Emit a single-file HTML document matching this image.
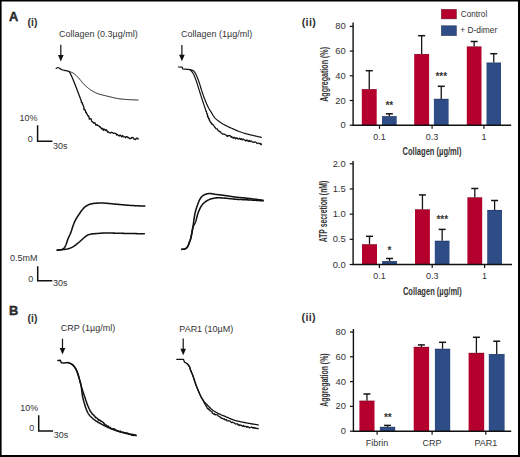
<!DOCTYPE html>
<html><head><meta charset="utf-8"><style>
html,body{margin:0;padding:0;background:#fff;}
body{width:520px;height:457px;overflow:hidden;}
svg{display:block;font-family:'Liberation Sans', sans-serif;}
text{fill:#333;}
</style></head><body>
<svg width="520" height="457" viewBox="0 0 520 457">
<rect x="0" y="0" width="520" height="457" fill="#fff"/>
<text x="9.1" y="20.8" font-size="12.8" text-anchor="start" font-weight="bold" fill="#000" stroke="#000" stroke-width="0.35">A</text>
<text x="27.6" y="25.6" font-size="10.5" text-anchor="start" font-weight="bold" fill="#111">(i)</text>
<text transform="translate(59,36.60) scale(1,1.1)" font-size="9" text-anchor="start" font-weight="normal" >Collagen (0.3µg/ml)</text>
<text transform="translate(181,36.60) scale(1,1.1)" font-size="9" text-anchor="start" font-weight="normal" >Collagen (1µg/ml)</text>
<line x1="60.8" y1="44.8" x2="60.8" y2="56.4" stroke="#111" stroke-width="1.2"/><path d="M58.0,54.9 L63.599999999999994,54.9 L60.8,61.4 Z" fill="#111"/>
<line x1="181.9" y1="45" x2="181.9" y2="56.3" stroke="#111" stroke-width="1.2"/><path d="M179.1,54.8 L184.70000000000002,54.8 L181.9,61.3 Z" fill="#111"/>
<path d="M56.20,68.40 C56.50,68.25 57.40,67.47 58.00,67.50 C58.60,67.53 59.13,68.23 59.80,68.60 C60.47,68.97 60.97,69.35 62.00,69.70 C63.03,70.05 64.78,70.38 66.00,70.70 C67.22,71.02 68.75,71.45 69.30,71.60" fill="none" stroke="#111" stroke-width="1.2" stroke-linejoin="round" stroke-linecap="round"/>
<path d="M69.88,71.75 L70.31,71.88 L70.85,72.05 L71.48,72.28 L72.14,72.56 L72.79,72.89 L73.43,73.26 L74.05,73.67 L74.65,74.11 L75.23,74.58 L75.80,75.07 L76.35,75.59 L76.88,76.11 L77.40,76.65 L77.91,77.20 L78.41,77.76 L78.90,78.32 L79.39,78.90 L79.87,79.47 L80.34,80.05 L80.81,80.64 L81.28,81.22 L81.75,81.81 L82.23,82.39 L82.71,82.96 L83.21,83.52 L83.71,84.07 L84.23,84.61 L84.77,85.13 L85.31,85.65 L85.86,86.16 L86.43,86.65 L86.99,87.14 L87.57,87.62 L88.15,88.09 L88.74,88.56 L89.34,89.01 L89.95,89.45 L90.56,89.87 L91.19,90.28 L91.82,90.68 L92.47,91.07 L93.12,91.44 L93.77,91.81 L94.43,92.16 L95.10,92.50 L95.78,92.82 L96.46,93.13 L97.15,93.42 L97.85,93.69 L98.55,93.94 L99.26,94.17 L99.98,94.38 L100.71,94.58 L101.43,94.76 L102.16,94.94 L102.89,95.11 L103.62,95.28 L104.35,95.45 L105.08,95.63 L105.81,95.80 L106.54,95.98 L107.27,96.16 L108.00,96.34 L108.72,96.52 L109.45,96.70 L110.18,96.88 L110.91,97.06 L111.64,97.23 L112.37,97.41 L113.10,97.58 L113.83,97.74 L114.56,97.90 L115.30,98.06 L116.03,98.21 L116.77,98.35 L117.51,98.48 L118.24,98.61 L118.99,98.72 L119.73,98.83 L120.47,98.93 L121.22,99.02 L121.96,99.10 L122.71,99.18 L123.45,99.25 L124.20,99.31 L124.95,99.38 L125.70,99.43 L126.44,99.49 L127.19,99.54 L127.94,99.59 L128.69,99.64 L129.44,99.68 L130.19,99.72 L130.93,99.75 L131.68,99.78 L132.43,99.81 L133.18,99.84 L133.93,99.86 L134.68,99.89 L135.42,99.91 L136.15,99.93 L136.84,99.95 L137.46,99.96 L137.95,99.98 L138.08,99.98" fill="none" stroke="#111" stroke-width="0.95" stroke-linejoin="round" stroke-linecap="round"/>
<path d="M69.48,71.95 L69.71,72.38 L70.01,72.95 L70.35,73.59 L70.69,74.26 L71.03,74.93 L71.35,75.60 L71.67,76.28 L71.98,76.97 L72.27,77.66 L72.57,78.35 L72.85,79.04 L73.14,79.73 L73.42,80.43 L73.70,81.13 L73.97,81.82 L74.25,82.52 L74.52,83.22 L74.80,83.92 L75.07,84.61 L75.34,85.31 L75.61,86.01 L75.89,86.71 L76.16,87.41 L76.43,88.11 L76.70,88.81 L76.97,89.51 L77.24,90.21 L77.50,90.91 L77.77,91.61 L78.04,92.31 L78.30,93.01 L78.57,93.71 L78.83,94.42 L79.10,95.12 L79.37,95.82 L79.63,96.52 L79.89,97.22 L80.16,97.92 L80.42,98.63 L80.68,99.33 L80.95,100.03 L81.21,100.74 L81.26,101.09 L81.47,102.44 L81.91,102.92 L82.26,102.66 L82.48,103.32 L82.54,104.09 L83.26,105.50 L83.17,105.59 L83.88,107.30 L83.82,107.90 L83.89,109.39 L84.32,109.85 L84.51,109.11 L85.24,110.12 L85.42,110.55 L85.63,112.13 L85.80,112.61 L86.27,112.28 L86.79,114.16 L87.29,114.06 L87.52,114.97 L88.15,116.29 L88.46,115.83 L89.02,117.04 L89.07,118.08 L89.40,119.19 L90.25,118.65 L90.58,118.69 L91.19,119.02 L91.65,121.01 L92.02,121.77 L92.72,121.94 L93.17,122.23 L94.01,123.27 L94.39,123.05 L94.97,122.72 L95.70,124.39 L95.85,125.23 L96.66,124.83 L97.12,124.57 L97.51,125.32 L98.51,125.53 L98.82,126.09 L99.83,127.02 L100.21,126.79 L101.12,128.11 L101.76,129.01 L102.15,128.29 L103.10,128.80 L103.33,130.33 L104.05,129.10 L104.88,129.54 L105.43,130.57 L106.20,129.70 L106.98,130.74 L107.74,132.21 L108.38,131.63 L108.74,132.24 L109.87,132.97 L110.57,133.21 L111.03,132.52 L111.87,132.22 L112.23,132.40 L112.99,132.96 L113.62,133.48 L114.39,133.05 L115.23,133.50 L116.25,133.58 L116.52,134.99 L117.36,134.48 L117.94,134.92 L119.19,136.10 L119.60,135.53 L120.10,134.97 L120.92,135.68 L121.59,136.84 L122.79,135.41 L123.03,136.60 L123.69,136.80 L124.99,136.95 L125.55,137.79 L126.09,136.74 L127.06,136.72 L127.80,137.60 L128.20,137.34 L129.39,138.45 L130.02,138.67 L130.73,138.72 L131.33,137.65 L131.78,138.00 L132.68,137.42 L133.67,137.96 L134.27,139.41 L135.35,139.42 L135.72,139.50 L136.38,138.07 L137.07,138.06 L138.09,138.95 L138.15,138.71" fill="none" stroke="#111" stroke-width="1.3" stroke-linejoin="round" stroke-linecap="round"/>
<path d="M178.4,67 L182.2,67.2 L182.6,68.8 L190,69.6" fill="none" stroke="#111" stroke-width="1.2" stroke-linejoin="round" stroke-linecap="round"/>
<path d="M190.58,69.72 L191.02,69.82 L191.56,69.97 L192.18,70.19 L192.81,70.48 L193.41,70.86 L193.96,71.33 L194.45,71.86 L194.89,72.45 L195.28,73.08 L195.65,73.73 L195.98,74.40 L196.30,75.08 L196.61,75.76 L196.90,76.45 L197.19,77.14 L197.47,77.84 L197.74,78.54 L198.01,79.24 L198.28,79.94 L198.54,80.64 L198.79,81.35 L199.03,82.06 L199.27,82.77 L199.51,83.48 L199.73,84.19 L199.95,84.91 L200.17,85.63 L200.39,86.35 L200.61,87.06 L200.82,87.78 L201.04,88.50 L201.26,89.22 L201.48,89.93 L201.70,90.65 L201.93,91.37 L202.16,92.08 L202.40,92.79 L202.64,93.50 L202.89,94.21 L203.14,94.91 L203.40,95.62 L203.66,96.32 L203.92,97.02 L204.18,97.73 L204.45,98.43 L204.72,99.13 L204.99,99.83 L205.27,100.52 L205.54,101.22 L205.83,101.91 L206.11,102.61 L206.41,103.30 L206.70,103.99 L207.01,104.67 L207.32,105.35 L207.64,106.03 L207.97,106.70 L208.31,107.37 L208.67,108.03 L209.03,108.68 L209.41,109.33 L209.80,109.97 L210.19,110.61 L210.59,111.25 L210.99,111.88 L211.38,112.52 L211.76,113.17 L212.14,113.81 L212.51,114.46 L212.89,115.11 L213.28,115.75 L213.69,116.37 L214.13,116.98 L214.60,117.55 L215.10,118.10 L215.63,118.63 L216.18,119.14 L216.75,119.63 L217.33,120.10 L217.92,120.57 L218.51,121.02 L219.12,121.46 L219.73,121.90 L220.34,122.33 L220.97,122.74 L221.59,123.15 L222.23,123.55 L222.87,123.95 L223.51,124.33 L224.17,124.70 L224.82,125.05 L225.49,125.40 L226.16,125.74 L226.83,126.08 L227.50,126.40 L228.18,126.72 L228.86,127.03 L229.55,127.34 L230.23,127.65 L230.92,127.95 L231.60,128.26 L232.29,128.56 L232.97,128.87 L233.66,129.17 L234.34,129.48 L235.03,129.78 L235.72,130.08 L236.41,130.37 L237.10,130.66 L237.79,130.95 L238.49,131.23 L239.19,131.50 L239.89,131.77 L240.59,132.03 L241.30,132.28 L242.01,132.52 L242.72,132.76 L243.43,132.98 L244.15,133.20 L244.87,133.41 L245.59,133.62 L246.31,133.81 L247.04,134.01 L247.77,134.19 L248.49,134.38 L249.22,134.56 L249.95,134.74 L250.68,134.91 L251.41,135.09 L252.14,135.26 L252.87,135.43 L253.60,135.60 L254.33,135.76 L255.06,135.93 L255.79,136.10 L256.52,136.26 L257.26,136.43 L257.99,136.59 L258.71,136.75 L259.42,136.91 L260.10,137.06 L260.69,137.20 L261.18,137.31 L261.31,137.34" fill="none" stroke="#111" stroke-width="1.2" stroke-linejoin="round" stroke-linecap="round"/>
<path d="M190.27,69.89 L190.61,70.23 L191.06,70.70 L191.54,71.24 L192.02,71.81 L192.48,72.40 L192.89,73.03 L193.27,73.67 L193.62,74.33 L193.95,75.01 L194.26,75.69 L194.55,76.38 L194.83,77.07 L195.10,77.77 L195.37,78.48 L195.62,79.18 L195.88,79.89 L196.13,80.59 L196.37,81.30 L196.61,82.01 L196.85,82.72 L197.08,83.44 L197.31,84.15 L197.53,84.87 L197.76,85.58 L197.98,86.30 L198.20,87.01 L198.43,87.73 L198.65,88.45 L198.87,89.16 L199.09,89.88 L199.32,90.60 L199.54,91.31 L199.77,92.03 L199.99,92.74 L200.22,93.46 L200.45,94.17 L200.68,94.88 L200.91,95.60 L201.14,96.31 L201.37,97.02 L201.60,97.74 L201.84,98.45 L202.07,99.17 L202.30,99.88 L202.53,100.59 L202.76,101.31 L203.00,102.02 L203.23,102.73 L203.46,103.44 L203.70,104.15 L203.94,104.87 L204.18,105.58 L204.42,106.29 L204.66,107.00 L204.90,107.71 L205.14,108.42 L205.38,109.13 L205.62,109.84 L205.85,111.16 L206.25,111.54 L206.41,111.23 L206.71,113.43 L206.79,113.85 L207.20,113.53 L207.45,114.52 L207.48,116.37 L208.04,116.05 L207.88,117.33 L208.15,116.95 L208.80,119.05 L209.11,118.36 L209.34,120.54 L209.63,120.07 L209.70,120.34 L210.43,122.49 L210.98,122.33 L211.37,122.78 L211.45,124.10 L211.94,123.66 L212.57,124.23 L212.96,124.84 L213.71,125.17 L213.97,126.13 L214.71,127.10 L215.23,127.36 L215.54,128.05 L215.78,128.63 L216.40,129.01 L217.27,128.74 L217.65,129.55 L218.26,131.03 L218.83,130.78 L219.57,131.64 L220.07,131.26 L220.54,131.92 L221.31,133.25 L222.10,133.24 L222.59,134.22 L223.30,134.01 L224.08,134.15 L224.68,134.35 L225.58,134.70 L226.24,135.38 L226.61,136.10 L227.67,135.68 L227.94,136.44 L228.81,135.40 L229.41,135.56 L230.35,135.80 L231.19,137.32 L231.81,136.41 L232.21,137.54 L233.38,138.15 L234.09,137.15 L234.57,137.67 L235.48,138.92 L235.99,137.61 L236.67,138.42 L237.39,138.01 L237.96,139.13 L238.92,138.99 L239.59,138.20 L240.42,139.45 L241.41,138.61 L242.13,140.08 L242.48,139.02 L243.49,139.08 L243.87,139.66 L245.02,140.11 L245.40,140.99 L246.48,139.96 L247.10,140.89 L247.48,140.19 L248.41,141.44 L249.42,140.50 L250.07,141.68 L250.83,140.85 L251.57,140.99 L252.02,141.85 L253.07,142.20 L253.37,141.86 L254.16,142.49 L254.85,141.90 L255.60,141.97 L256.39,142.60 L257.11,143.58 L257.78,143.28 L258.42,143.17 L259.15,143.16 L260.16,144.19 L260.78,143.37 L261.12,144.83 L261.47,144.08" fill="none" stroke="#111" stroke-width="1.2" stroke-linejoin="round" stroke-linecap="round"/>
<path d="M37.6,125.2 L37.6,141.3 L52.4,141.3" fill="none" stroke="#111" stroke-width="1.5"/><text transform="translate(19.4,120.60) scale(1,1.1)" font-size="9" text-anchor="start" font-weight="normal" >10%</text><text transform="translate(27.8,141.60) scale(1,1.1)" font-size="9" text-anchor="start" font-weight="normal" >0</text><text transform="translate(53,148.60) scale(1,1.1)" font-size="9" text-anchor="start" font-weight="normal" >30s</text>
<path d="M57.00,250.16 L57.44,250.13 L58.02,250.08 L58.69,250.02 L59.40,249.95 L60.13,249.86 L60.86,249.74 L61.58,249.57 L62.28,249.36 L62.93,249.06 L63.52,248.66 L64.04,248.18 L64.49,247.62 L64.89,247.00 L65.24,246.35 L65.55,245.68 L65.85,244.99 L66.13,244.29 L66.39,243.59 L66.64,242.89 L66.88,242.18 L67.11,241.46 L67.35,240.75 L67.58,240.04 L67.83,239.33 L68.10,238.63 L68.39,237.94 L68.69,237.25 L69.00,236.57 L69.33,235.90 L69.65,235.22 L69.97,234.54 L70.27,233.86 L70.57,233.17 L70.84,232.47 L71.10,231.77 L71.35,231.06 L71.58,230.35 L71.81,229.64 L72.03,228.92 L72.25,228.20 L72.48,227.49 L72.71,226.77 L72.95,226.06 L73.20,225.36 L73.46,224.65 L73.73,223.96 L74.01,223.26 L74.30,222.57 L74.60,221.88 L74.92,221.20 L75.24,220.53 L75.58,219.86 L75.94,219.20 L76.31,218.55 L76.69,217.91 L77.09,217.27 L77.51,216.65 L77.93,216.03 L78.35,215.41 L78.78,214.79 L79.19,214.17 L79.61,213.54 L80.02,212.92 L80.43,212.29 L80.85,211.67 L81.27,211.05 L81.72,210.45 L82.18,209.86 L82.65,209.28 L83.15,208.72 L83.66,208.17 L84.19,207.65 L84.74,207.15 L85.32,206.68 L85.92,206.24 L86.55,205.83 L87.20,205.47 L87.87,205.13 L88.55,204.83 L89.24,204.54 L89.94,204.29 L90.66,204.06 L91.38,203.87 L92.11,203.71 L92.84,203.58 L93.58,203.47 L94.33,203.38 L95.07,203.30 L95.82,203.22 L96.57,203.16 L97.31,203.11 L98.06,203.07 L98.81,203.04 L99.56,203.01 L100.31,203.00 L101.06,203.00 L101.81,203.01 L102.56,203.03 L103.31,203.06 L104.06,203.10 L104.80,203.15 L105.55,203.20 L106.30,203.26 L107.05,203.32 L107.79,203.39 L108.54,203.46 L109.29,203.53 L110.03,203.60 L110.78,203.68 L111.53,203.75 L112.27,203.83 L113.02,203.90 L113.77,203.97 L114.51,204.04 L115.26,204.11 L116.01,204.18 L116.75,204.25 L117.50,204.31 L118.25,204.38 L118.99,204.45 L119.74,204.52 L120.49,204.58 L121.24,204.65 L121.98,204.72 L122.73,204.79 L123.48,204.85 L124.22,204.92 L124.97,204.99 L125.72,205.05 L126.46,205.11 L127.21,205.18 L127.96,205.24 L128.71,205.30 L129.46,205.35 L130.20,205.41 L130.95,205.46 L131.70,205.51 L132.45,205.55 L133.20,205.60 L133.95,205.64 L134.69,205.67 L135.44,205.71 L136.19,205.75 L136.94,205.78 L137.69,205.81 L138.44,205.84 L139.19,205.87 L139.94,205.90 L140.69,205.93 L141.44,205.95 L142.18,205.98 L142.91,206.01 L143.60,206.03 L144.21,206.05 L144.71,206.07 L144.84,206.07" fill="none" stroke="#111" stroke-width="1.55" stroke-linejoin="round" stroke-linecap="round"/>
<path d="M57.51,250.10 L57.92,250.06 L58.41,250.02 L58.97,249.97 L59.59,249.92 L60.25,249.86 L60.95,249.80 L61.66,249.73 L62.39,249.67 L63.13,249.59 L63.87,249.51 L64.61,249.42 L65.35,249.31 L66.08,249.19 L66.82,249.05 L67.54,248.89 L68.26,248.71 L68.98,248.50 L69.68,248.27 L70.38,248.01 L71.06,247.72 L71.74,247.41 L72.40,247.07 L73.05,246.71 L73.69,246.33 L74.32,245.93 L74.93,245.51 L75.54,245.07 L76.14,244.63 L76.73,244.16 L77.31,243.69 L77.89,243.22 L78.46,242.73 L79.03,242.24 L79.59,241.75 L80.16,241.26 L80.72,240.76 L81.27,240.26 L81.83,239.76 L82.39,239.25 L82.94,238.75 L83.49,238.25 L84.05,237.75 L84.61,237.26 L85.18,236.79 L85.76,236.34 L86.36,235.91 L86.97,235.52 L87.61,235.17 L88.26,234.87 L88.94,234.61 L89.63,234.39 L90.34,234.21 L91.06,234.07 L91.79,233.95 L92.53,233.86 L93.27,233.78 L94.01,233.72 L94.76,233.66 L95.51,233.61 L96.26,233.56 L97.00,233.51 L97.75,233.46 L98.50,233.41 L99.25,233.35 L99.99,233.28 L100.74,233.22 L101.49,233.16 L102.23,233.11 L102.98,233.06 L103.73,233.02 L104.48,232.99 L105.22,232.97 L105.97,232.96 L106.72,232.95 L107.47,232.95 L108.22,232.96 L108.97,232.98 L109.72,232.99 L110.47,233.01 L111.22,233.03 L111.97,233.06 L112.72,233.08 L113.47,233.11 L114.22,233.13 L114.97,233.15 L115.72,233.18 L116.47,233.20 L117.22,233.22 L117.97,233.24 L118.72,233.26 L119.47,233.28 L120.22,233.30 L120.97,233.32 L121.72,233.33 L122.47,233.35 L123.22,233.37 L123.97,233.38 L124.72,233.40 L125.47,233.41 L126.21,233.43 L126.96,233.44 L127.71,233.46 L128.46,233.47 L129.21,233.49 L129.96,233.50 L130.71,233.52 L131.46,233.53 L132.21,233.55 L132.96,233.56 L133.71,233.58 L134.46,233.59 L135.21,233.60 L135.96,233.62 L136.71,233.63 L137.46,233.65 L138.21,233.66 L138.95,233.68 L139.69,233.69 L140.42,233.70 L141.13,233.72 L141.82,233.73 L142.47,233.74 L143.07,233.75 L143.61,233.76 L144.08,233.77 L144.35,233.78" fill="none" stroke="#111" stroke-width="1.55" stroke-linejoin="round" stroke-linecap="round"/>
<path d="M181.88,249.37 L182.34,249.35 L182.95,249.29 L183.65,249.20 L184.36,249.05 L185.05,248.82 L185.71,248.50 L186.31,248.09 L186.85,247.60 L187.32,247.03 L187.72,246.42 L188.05,245.75 L188.34,245.07 L188.60,244.37 L188.86,243.66 L189.12,242.96 L189.39,242.26 L189.66,241.56 L189.93,240.86 L190.18,240.15 L190.41,239.44 L190.63,238.72 L190.83,238.00 L191.01,237.27 L191.18,236.54 L191.34,235.81 L191.50,235.08 L191.65,234.34 L191.79,233.61 L191.93,232.87 L192.06,232.13 L192.20,231.39 L192.33,230.66 L192.46,229.92 L192.58,229.18 L192.71,228.44 L192.83,227.70 L192.95,226.96 L193.06,226.22 L193.17,225.47 L193.28,224.73 L193.38,223.99 L193.47,223.25 L193.57,222.50 L193.67,221.76 L193.76,221.01 L193.86,220.27 L193.96,219.53 L194.06,218.78 L194.16,218.04 L194.27,217.30 L194.39,216.56 L194.51,215.82 L194.64,215.08 L194.79,214.34 L194.94,213.61 L195.10,212.88 L195.28,212.15 L195.46,211.42 L195.66,210.70 L195.86,209.98 L196.07,209.26 L196.30,208.54 L196.53,207.83 L196.76,207.12 L197.01,206.41 L197.25,205.70 L197.51,204.99 L197.76,204.29 L198.02,203.58 L198.29,202.88 L198.56,202.19 L198.84,201.49 L199.14,200.80 L199.45,200.12 L199.78,199.45 L200.14,198.80 L200.54,198.16 L200.97,197.56 L201.45,196.99 L201.97,196.46 L202.54,195.98 L203.14,195.54 L203.77,195.14 L204.43,194.79 L205.10,194.47 L205.80,194.20 L206.51,193.97 L207.23,193.79 L207.97,193.67 L208.71,193.59 L209.45,193.56 L210.20,193.58 L210.94,193.64 L211.69,193.74 L212.43,193.85 L213.17,193.98 L213.91,194.10 L214.65,194.21 L215.39,194.32 L216.13,194.41 L216.88,194.51 L217.62,194.60 L218.37,194.69 L219.11,194.78 L219.86,194.87 L220.60,194.96 L221.34,195.05 L222.09,195.14 L222.83,195.24 L223.58,195.33 L224.32,195.43 L225.06,195.53 L225.81,195.63 L226.55,195.74 L227.29,195.85 L228.03,195.96 L228.77,196.08 L229.51,196.20 L230.25,196.32 L230.99,196.43 L231.74,196.55 L232.48,196.67 L233.22,196.78 L233.96,196.89 L234.70,197.00 L235.45,197.10 L236.19,197.19 L236.93,197.28 L237.68,197.36 L238.43,197.44 L239.17,197.51 L239.92,197.57 L240.67,197.64 L241.41,197.70 L242.16,197.76 L242.91,197.83 L243.66,197.89 L244.40,197.96 L245.15,198.04 L245.89,198.12 L246.64,198.20 L247.39,198.28 L248.13,198.37 L248.88,198.45 L249.62,198.54 L250.36,198.63 L251.11,198.72 L251.85,198.82 L252.60,198.91 L253.34,199.00 L254.09,199.09 L254.83,199.18 L255.57,199.28 L256.32,199.37 L257.06,199.46 L257.81,199.56 L258.55,199.65 L259.30,199.75 L260.04,199.84 L260.78,199.93 L261.50,200.02 L262.18,200.11 L262.75,200.18 L263.04,200.22" fill="none" stroke="#111" stroke-width="1.55" stroke-linejoin="round" stroke-linecap="round"/>
<path d="M181.88,249.37 L182.34,249.35 L182.95,249.29 L183.65,249.20 L184.36,249.05 L185.05,248.82 L185.71,248.50 L186.31,248.09 L186.85,247.60 L187.32,247.03 L187.72,246.42 L188.05,245.75 L188.34,245.07 L188.60,244.37 L188.86,243.66 L189.12,242.96 L189.39,242.26 L189.66,241.56 L189.93,240.86 L190.18,240.15 L190.41,239.44 L190.63,238.72 L190.82,238.00 L191.00,237.27 L191.16,236.54 L191.30,235.80 L191.43,235.07 L191.56,234.33 L191.69,233.59 L191.81,232.85 L191.93,232.11 L192.06,231.37 L192.19,230.63 L192.33,229.89 L192.48,229.16 L192.64,228.43 L192.84,227.71 L193.06,226.99 L193.33,226.30 L193.64,225.62 L193.99,224.96 L194.36,224.31 L194.72,223.65 L195.06,222.99 L195.36,222.31 L195.62,221.61 L195.86,220.90 L196.07,220.18 L196.26,219.45 L196.45,218.73 L196.64,218.00 L196.82,217.27 L197.01,216.55 L197.20,215.82 L197.41,215.10 L197.62,214.38 L197.85,213.67 L198.10,212.96 L198.36,212.26 L198.63,211.56 L198.92,210.87 L199.21,210.18 L199.51,209.49 L199.83,208.81 L200.16,208.14 L200.50,207.47 L200.87,206.82 L201.25,206.18 L201.66,205.55 L202.10,204.95 L202.57,204.37 L203.07,203.81 L203.60,203.28 L204.15,202.78 L204.73,202.30 L205.32,201.85 L205.93,201.41 L206.56,201.00 L207.20,200.60 L207.85,200.23 L208.51,199.89 L209.19,199.59 L209.89,199.31 L210.60,199.06 L211.31,198.84 L212.03,198.64 L212.76,198.46 L213.49,198.30 L214.23,198.15 L214.97,198.04 L215.71,197.95 L216.45,197.88 L217.20,197.84 L217.95,197.82 L218.70,197.81 L219.45,197.82 L220.20,197.84 L220.95,197.87 L221.70,197.92 L222.45,197.96 L223.20,198.01 L223.94,198.07 L224.69,198.13 L225.44,198.19 L226.19,198.26 L226.93,198.33 L227.68,198.40 L228.42,198.48 L229.17,198.57 L229.91,198.65 L230.66,198.73 L231.40,198.82 L232.15,198.90 L232.90,198.98 L233.64,199.06 L234.39,199.13 L235.13,199.20 L235.88,199.27 L236.63,199.32 L237.38,199.37 L238.13,199.42 L238.88,199.46 L239.62,199.49 L240.37,199.52 L241.12,199.55 L241.87,199.58 L242.62,199.61 L243.37,199.64 L244.12,199.67 L244.87,199.71 L245.62,199.74 L246.37,199.78 L247.12,199.83 L247.87,199.87 L248.61,199.92 L249.36,199.96 L250.11,200.01 L250.86,200.06 L251.61,200.10 L252.36,200.15 L253.11,200.20 L253.85,200.25 L254.60,200.30 L255.35,200.35 L256.10,200.40 L256.85,200.45 L257.60,200.50 L258.34,200.55 L259.09,200.60 L259.84,200.64 L260.59,200.69 L261.32,200.74 L262.03,200.79 L262.64,200.83 L263.11,200.86" fill="none" stroke="#111" stroke-width="1.55" stroke-linejoin="round" stroke-linecap="round"/>
<path d="M37.7,266.2 L37.7,280.8 L52.3,280.8" fill="none" stroke="#111" stroke-width="1.5"/><text transform="translate(10,261.40) scale(1,1.1)" font-size="9" text-anchor="start" font-weight="normal" >0.5mM</text><text transform="translate(28.3,281.90) scale(1,1.1)" font-size="9" text-anchor="start" font-weight="normal" >0</text><text transform="translate(53,285.80) scale(1,1.1)" font-size="9" text-anchor="start" font-weight="normal" >30s</text>
<text x="9.1" y="315.2" font-size="12.8" text-anchor="start" font-weight="bold" fill="#000" stroke="#000" stroke-width="0.35">B</text>
<text x="27.5" y="321.6" font-size="10.5" text-anchor="start" font-weight="bold" fill="#111">(i)</text>
<text transform="translate(60.7,331.40) scale(1,1.1)" font-size="9" text-anchor="start" font-weight="normal" >CRP (1µg/ml)</text>
<text transform="translate(179.3,331.50) scale(1,1.1)" font-size="9" text-anchor="start" font-weight="normal" >PAR1 (10µM)</text>
<line x1="62.5" y1="338.7" x2="62.5" y2="349.5" stroke="#111" stroke-width="1.2"/><path d="M59.7,348.0 L65.3,348.0 L62.5,354.5 Z" fill="#111"/>
<line x1="183.2" y1="338.6" x2="183.2" y2="350.2" stroke="#111" stroke-width="1.2"/><path d="M180.39999999999998,348.7 L186.0,348.7 L183.2,355.2 Z" fill="#111"/>
<path d="M57.9,360.5 L60.3,360.3 L61.3,362.7 L64,363 L68,362.6" fill="none" stroke="#111" stroke-width="1.5" stroke-linejoin="round" stroke-linecap="round"/>
<path d="M68.45,362.75 L68.89,362.90 L69.47,363.11 L70.12,363.38 L70.78,363.69 L71.43,364.06 L72.05,364.47 L72.63,364.93 L73.19,365.43 L73.71,365.96 L74.20,366.53 L74.65,367.12 L75.07,367.74 L75.46,368.38 L75.82,369.03 L76.16,369.70 L76.48,370.38 L76.78,371.07 L77.07,371.76 L77.34,372.46 L77.59,373.16 L77.84,373.87 L78.07,374.58 L78.29,375.30 L78.51,376.02 L78.72,376.74 L78.92,377.46 L79.13,378.18 L79.33,378.90 L79.54,379.62 L79.75,380.34 L79.96,381.06 L80.17,381.78 L80.37,382.50 L80.57,383.23 L80.75,383.95 L80.92,384.68 L81.07,385.42 L81.20,386.16 L81.32,386.90 L81.42,387.64 L81.51,388.38 L81.59,389.13 L81.66,389.88 L81.74,390.62 L81.81,391.37 L81.89,392.11 L81.98,392.86 L82.08,393.60 L82.19,394.34 L82.31,395.08 L82.44,395.82 L82.59,396.56 L82.75,397.29 L82.92,398.02 L83.09,398.75 L83.27,399.48 L83.46,400.20 L83.65,400.93 L83.85,401.65 L84.05,402.37 L84.26,403.10 L84.47,403.82 L84.68,404.53 L84.90,405.25 L85.13,405.97 L85.36,406.68 L85.60,407.39 L85.85,408.10 L86.10,408.80 L86.36,409.50 L86.64,410.20 L86.93,410.89 L87.25,411.57 L87.58,412.24 L87.94,412.90 L88.33,413.54 L88.74,414.16 L89.17,414.77 L89.63,415.36 L90.12,415.94 L90.62,416.49 L91.14,417.03 L91.68,417.55 L92.23,418.06 L92.79,418.55 L93.37,419.03 L93.95,419.50 L94.55,419.96 L95.15,420.40 L95.77,420.82 L96.40,421.23 L97.04,421.62 L97.68,422.00 L98.33,422.38 L98.99,422.75 L99.64,423.11 L100.30,423.47 L100.96,423.83 L101.61,424.19 L102.27,424.55 L102.93,424.91 L103.59,425.26 L104.26,425.61 L104.93,425.95 L105.60,426.29 L106.27,426.61 L106.95,426.93 L107.64,427.23 L108.33,427.53 L109.02,427.83 L109.71,428.11 L110.40,428.40 L111.10,428.68 L111.79,428.96 L112.49,429.23 L113.19,429.50 L113.89,429.77 L114.60,430.02 L115.30,430.28 L116.01,430.52 L116.72,430.77 L117.43,431.00 L118.15,431.23 L118.87,431.45 L119.58,431.66 L120.31,431.86 L121.03,432.06 L121.76,432.25 L122.48,432.43 L123.21,432.60 L123.94,432.78 L124.67,432.94 L125.41,433.11 L126.14,433.27 L126.87,433.43 L127.61,433.58 L128.34,433.74 L129.07,433.89 L129.81,434.04 L130.54,434.19 L131.28,434.34 L132.01,434.49 L132.75,434.64 L133.48,434.78 L134.21,434.93 L134.89,435.07 L135.50,435.19 L135.96,435.29" fill="none" stroke="#111" stroke-width="1.5" stroke-linejoin="round" stroke-linecap="round"/>
<path d="M68.38,362.73 L68.83,362.88 L69.45,363.09 L70.12,363.36 L70.79,363.67 L71.44,364.03 L72.06,364.45 L72.65,364.91 L73.20,365.41 L73.72,365.95 L74.21,366.52 L74.66,367.11 L75.08,367.73 L75.47,368.37 L75.83,369.03 L76.16,369.70 L76.48,370.38 L76.78,371.06 L77.07,371.76 L77.34,372.45 L77.60,373.16 L77.84,373.87 L78.07,374.58 L78.29,375.30 L78.51,376.02 L78.72,376.74 L78.92,377.46 L79.13,378.18 L79.33,378.90 L79.53,379.62 L79.72,380.35 L79.91,381.07 L80.10,381.80 L80.28,382.53 L80.46,383.26 L80.64,383.98 L80.84,384.71 L81.04,385.43 L81.25,386.15 L81.47,386.87 L81.69,387.58 L81.91,388.30 L82.14,389.02 L82.37,389.73 L82.60,390.44 L82.83,391.16 L83.06,391.87 L83.30,392.58 L83.53,393.29 L83.77,394.01 L84.01,394.72 L84.24,395.43 L84.48,396.14 L84.72,396.85 L84.95,397.57 L85.18,398.28 L85.42,398.99 L85.65,399.70 L85.88,400.42 L86.12,401.13 L86.36,401.84 L86.61,402.54 L86.87,403.25 L87.13,403.95 L87.40,404.65 L87.69,405.35 L87.97,406.04 L88.27,406.73 L88.57,407.41 L88.88,408.10 L89.19,408.78 L89.52,409.46 L89.85,410.13 L90.17,411.17 L90.68,411.44 L90.94,411.96 L91.52,412.95 L91.88,413.16 L92.26,414.19 L92.63,414.41 L93.04,414.56 L93.78,415.12 L94.10,415.87 L94.89,416.17 L95.39,417.61 L95.81,417.40 L96.46,417.89 L97.04,418.20 L97.81,418.79 L98.26,420.09 L99.02,419.66 L99.42,420.16 L100.05,420.21 L100.72,421.20 L101.34,421.29 L101.88,421.47 L102.55,421.99 L103.03,422.36 L103.72,423.11 L104.42,423.89 L105.06,424.55 L105.73,424.97 L106.12,425.04 L106.65,426.21 L107.44,426.35 L108.12,425.95 L108.68,427.38 L109.39,427.57 L109.94,427.21 L110.73,427.99 L111.40,428.67 L112.11,428.71 L112.73,429.12 L113.18,428.86 L114.00,429.02 L114.87,429.25 L115.50,430.05 L116.23,430.38 L116.69,430.46 L117.67,431.06 L118.31,430.94 L118.86,431.36 L119.64,431.67 L120.36,431.10 L121.06,432.10 L122.06,432.32 L122.56,432.23 L123.40,432.41 L124.10,432.95 L124.63,433.00 L125.41,432.59 L126.16,433.50 L126.78,433.48 L127.60,433.05 L128.48,433.97 L129.06,434.16 L129.85,434.16 L130.45,434.28 L131.21,434.97 L132.20,435.26 L132.76,434.28 L133.67,435.43 L134.14,435.16 L135.09,435.05 L135.59,435.21 L136.02,435.68" fill="none" stroke="#111" stroke-width="1.5" stroke-linejoin="round" stroke-linecap="round"/>
<path d="M176.8,359.4 L183.5,359.4 L184.5,362.2 L187,363.5" fill="none" stroke="#111" stroke-width="1.3" stroke-linejoin="round" stroke-linecap="round"/>
<path d="M187.32,363.85 L187.63,364.20 L188.03,364.67 L188.48,365.21 L188.91,365.80 L189.29,366.43 L189.59,367.09 L189.83,367.79 L190.04,368.50 L190.27,369.21 L190.52,369.92 L190.79,370.61 L191.08,371.31 L191.37,371.99 L191.67,372.68 L191.96,373.38 L192.25,374.07 L192.53,374.76 L192.79,375.46 L193.05,376.17 L193.30,376.88 L193.54,377.59 L193.78,378.30 L194.00,379.01 L194.23,379.73 L194.46,380.44 L194.69,381.16 L194.92,381.87 L195.16,382.58 L195.40,383.29 L195.65,384.00 L195.91,384.70 L196.17,385.40 L196.44,386.10 L196.72,386.80 L196.99,387.50 L197.28,388.19 L197.56,388.89 L197.84,389.58 L198.13,390.27 L198.42,390.97 L198.71,391.66 L199.01,392.35 L199.30,393.04 L199.61,393.72 L199.91,394.41 L200.23,395.09 L200.55,395.76 L200.88,396.44 L201.21,397.11 L201.56,397.78 L201.92,398.43 L202.29,399.08 L202.70,399.71 L203.12,400.33 L203.57,400.92 L204.04,401.51 L204.53,402.08 L205.03,402.63 L205.54,403.18 L206.06,403.72 L206.58,404.26 L207.10,404.80 L207.62,405.34 L208.14,405.88 L208.67,406.42 L209.19,406.96 L209.72,407.49 L210.25,408.01 L210.80,408.53 L211.36,409.03 L211.93,409.51 L212.52,409.97 L213.12,410.42 L213.74,410.84 L214.37,411.25 L215.00,411.64 L215.65,412.03 L216.30,412.40 L216.96,412.76 L217.62,413.12 L218.28,413.47 L218.95,413.81 L219.62,414.14 L220.30,414.46 L220.98,414.77 L221.67,415.06 L222.36,415.35 L223.06,415.63 L223.76,415.90 L224.45,416.19 L225.15,416.47 L225.84,416.76 L226.53,417.06 L227.21,417.35 L227.90,417.65 L228.59,417.95 L229.28,418.25 L229.97,418.54 L230.66,418.83 L231.36,419.11 L232.06,419.38 L232.76,419.64 L233.47,419.89 L234.18,420.12 L234.89,420.35 L235.61,420.56 L236.34,420.76 L237.06,420.95 L237.79,421.13 L238.52,421.30 L239.25,421.47 L239.98,421.63 L240.72,421.78 L241.45,421.93 L242.19,422.08 L242.92,422.23 L243.66,422.37 L244.40,422.51 L245.13,422.65 L245.87,422.79 L246.61,422.93 L247.34,423.07 L248.08,423.21 L248.82,423.34 L249.56,423.48 L250.29,423.61 L251.03,423.74 L251.77,423.86 L252.51,423.99 L253.25,424.11 L253.99,424.23 L254.73,424.35 L255.47,424.47 L256.21,424.59 L256.92,424.70 L257.56,424.81 L258.08,424.89 L258.21,424.91" fill="none" stroke="#111" stroke-width="1.3" stroke-linejoin="round" stroke-linecap="round"/>
<path d="M187.27,363.79 L187.59,364.15 L188.02,364.64 L188.49,365.19 L188.93,365.78 L189.32,366.41 L189.62,367.08 L189.84,367.78 L190.04,368.50 L190.25,369.22 L190.51,369.92 L190.78,370.62 L191.08,371.31 L191.37,371.99 L191.67,372.68 L191.96,373.37 L192.25,374.07 L192.53,374.76 L192.80,375.46 L193.06,376.17 L193.30,376.87 L193.54,377.59 L193.78,378.30 L194.01,379.01 L194.23,379.73 L194.46,380.44 L194.69,381.16 L194.92,381.87 L195.16,382.58 L195.40,383.29 L195.65,384.00 L195.91,384.70 L196.17,385.40 L196.44,386.10 L196.72,386.80 L196.99,387.50 L197.27,388.19 L197.56,388.89 L197.84,389.58 L198.13,390.27 L198.42,390.97 L198.71,391.66 L199.01,392.35 L199.30,393.04 L199.60,393.72 L199.91,394.41 L200.22,395.09 L200.55,395.76 L200.89,396.43 L201.24,397.09 L201.61,397.75 L201.98,398.40 L202.36,399.04 L202.73,399.69 L203.10,400.35 L203.44,401.02 L203.77,401.69 L204.09,402.37 L204.41,403.04 L204.75,403.72 L205.09,404.38 L205.47,405.03 L205.87,405.66 L206.29,406.28 L206.74,406.42 L207.04,408.07 L207.66,408.49 L208.21,409.15 L208.77,408.87 L208.94,409.75 L209.63,409.67 L210.09,410.78 L210.66,410.88 L211.42,411.59 L211.98,411.64 L212.35,413.16 L213.21,413.69 L213.68,414.04 L214.37,413.72 L215.11,414.90 L215.71,414.42 L216.22,414.66 L217.19,414.79 L217.89,415.39 L218.28,415.70 L218.91,416.41 L219.86,416.59 L220.47,417.61 L221.18,417.62 L221.71,418.36 L222.19,418.39 L223.03,418.72 L223.78,419.06 L224.23,418.77 L224.95,419.91 L225.71,419.63 L226.55,419.71 L227.05,420.90 L227.75,420.79 L228.47,420.96 L229.07,420.76 L230.05,421.11 L230.47,421.77 L231.47,422.59 L231.83,422.28 L232.51,422.22 L233.21,422.69 L233.97,422.82 L234.92,423.50 L235.45,423.98 L236.20,423.78 L236.84,423.97 L237.54,423.78 L238.19,425.17 L239.11,424.78 L239.67,425.46 L240.41,424.89 L241.21,425.25 L242.09,426.16 L242.49,426.24 L243.49,425.33 L244.12,426.63 L244.67,426.41 L245.76,426.32 L246.46,427.06 L246.96,427.41 L247.66,426.45 L248.60,427.14 L249.35,427.83 L250.10,427.58 L250.76,427.47 L251.59,427.05 L252.38,427.42 L252.88,428.08 L253.60,427.52 L254.52,428.29 L255.01,427.72 L255.95,428.36 L256.55,428.29 L257.17,428.67 L257.94,428.37 L258.25,428.67" fill="none" stroke="#111" stroke-width="1.3" stroke-linejoin="round" stroke-linecap="round"/>
<path d="M38.7,415.2 L38.7,431.1 L53.1,431.1" fill="none" stroke="#111" stroke-width="1.5"/><text transform="translate(20.3,410.80) scale(1,1.1)" font-size="9" text-anchor="start" font-weight="normal" >10%</text><text transform="translate(29.2,431.40) scale(1,1.1)" font-size="9" text-anchor="start" font-weight="normal" >0</text><text transform="translate(53.7,438.40) scale(1,1.1)" font-size="9" text-anchor="start" font-weight="normal" >30s</text>
<line x1="369.25" y1="89.2" x2="369.25" y2="70.7" stroke="#151515" stroke-width="1.3"/><line x1="365.75" y1="70.7" x2="372.75" y2="70.7" stroke="#151515" stroke-width="1.5"/><rect x="361.8" y="89.2" width="14.90" height="36.00" fill="#b5002e"/><line x1="361.8" y1="89.5" x2="376.7" y2="89.5" stroke="#000" stroke-opacity="0.35" stroke-width="0.6"/><line x1="389.35" y1="116.2" x2="389.35" y2="113.8" stroke="#151515" stroke-width="1.3"/><line x1="385.85" y1="113.8" x2="392.85" y2="113.8" stroke="#151515" stroke-width="1.5"/><rect x="382.0" y="116.2" width="14.70" height="9.00" fill="#2e4c86"/><line x1="382.0" y1="116.5" x2="396.7" y2="116.5" stroke="#000" stroke-opacity="0.35" stroke-width="0.6"/><line x1="421.65" y1="54.1" x2="421.65" y2="35.7" stroke="#151515" stroke-width="1.3"/><line x1="418.15" y1="35.7" x2="425.15" y2="35.7" stroke="#151515" stroke-width="1.5"/><rect x="414.2" y="54.1" width="14.90" height="71.10" fill="#b5002e"/><line x1="414.2" y1="54.4" x2="429.1" y2="54.4" stroke="#000" stroke-opacity="0.35" stroke-width="0.6"/><line x1="441.25" y1="98.9" x2="441.25" y2="86.3" stroke="#151515" stroke-width="1.3"/><line x1="437.75" y1="86.3" x2="444.75" y2="86.3" stroke="#151515" stroke-width="1.5"/><rect x="433.9" y="98.9" width="14.70" height="26.30" fill="#2e4c86"/><line x1="433.9" y1="99.2" x2="448.6" y2="99.2" stroke="#000" stroke-opacity="0.35" stroke-width="0.6"/><line x1="474.15" y1="46.5" x2="474.15" y2="41.5" stroke="#151515" stroke-width="1.3"/><line x1="470.65" y1="41.5" x2="477.65" y2="41.5" stroke="#151515" stroke-width="1.5"/><rect x="466.8" y="46.5" width="14.70" height="78.70" fill="#b5002e"/><line x1="466.8" y1="46.8" x2="481.5" y2="46.8" stroke="#000" stroke-opacity="0.35" stroke-width="0.6"/><line x1="493.75" y1="62.6" x2="493.75" y2="53.7" stroke="#151515" stroke-width="1.3"/><line x1="490.25" y1="53.7" x2="497.25" y2="53.7" stroke="#151515" stroke-width="1.5"/><rect x="486.5" y="62.6" width="14.50" height="62.60" fill="#2e4c86"/><line x1="486.5" y1="62.9" x2="501.0" y2="62.9" stroke="#000" stroke-opacity="0.35" stroke-width="0.6"/><path d="M353.1,22.5 L353.1,125.2 L511.2,125.2" fill="none" stroke="#111" stroke-width="1.4"/><line x1="349.70000000000005" y1="125.20" x2="353.1" y2="125.20" stroke="#111" stroke-width="1.2"/><text x="345.70000000000005" y="128.20" font-size="9.4" text-anchor="end" font-weight="normal" >0</text><line x1="349.70000000000005" y1="100.50" x2="353.1" y2="100.50" stroke="#111" stroke-width="1.2"/><text x="345.70000000000005" y="103.50" font-size="9.4" text-anchor="end" font-weight="normal" >20</text><line x1="349.70000000000005" y1="75.80" x2="353.1" y2="75.80" stroke="#111" stroke-width="1.2"/><text x="345.70000000000005" y="78.80" font-size="9.4" text-anchor="end" font-weight="normal" >40</text><line x1="349.70000000000005" y1="51.10" x2="353.1" y2="51.10" stroke="#111" stroke-width="1.2"/><text x="345.70000000000005" y="54.10" font-size="9.4" text-anchor="end" font-weight="normal" >60</text><line x1="349.70000000000005" y1="26.40" x2="353.1" y2="26.40" stroke="#111" stroke-width="1.2"/><text x="345.70000000000005" y="29.40" font-size="9.4" text-anchor="end" font-weight="normal" >80</text><line x1="379.5" y1="125.2" x2="379.5" y2="128.8" stroke="#111" stroke-width="1.2"/><text transform="translate(379.5,140.00) scale(1,1.1)" font-size="9" text-anchor="middle" font-weight="normal" >0.1</text><line x1="432.1" y1="125.2" x2="432.1" y2="128.8" stroke="#111" stroke-width="1.2"/><text transform="translate(432.1,140.00) scale(1,1.1)" font-size="9" text-anchor="middle" font-weight="normal" >0.3</text><line x1="483.9" y1="125.2" x2="483.9" y2="128.8" stroke="#111" stroke-width="1.2"/><text transform="translate(483.9,140.00) scale(1,1.1)" font-size="9" text-anchor="middle" font-weight="normal" >1</text><text x="0" y="0" font-size="10" font-weight="bold" text-anchor="middle" textLength="54.9" lengthAdjust="spacingAndGlyphs" transform="translate(328.2,74.4) rotate(-90)">Aggregation (%)</text><text x="432" y="155.3" font-size="10" font-weight="bold" text-anchor="middle" textLength="58.9" lengthAdjust="spacingAndGlyphs">Collagen (µg/ml)</text><text x="389.3" y="108.8" font-size="10" text-anchor="middle" font-weight="bold" fill="#1a1a1a">**</text><text x="441.3" y="80.3" font-size="10" text-anchor="middle" font-weight="bold" fill="#1a1a1a">***</text>
<line x1="369.50" y1="244.3" x2="369.50" y2="236.3" stroke="#151515" stroke-width="1.3"/><line x1="366.00" y1="236.3" x2="373.00" y2="236.3" stroke="#151515" stroke-width="1.5"/><rect x="362.0" y="244.3" width="15.00" height="20.20" fill="#b5002e"/><line x1="362.0" y1="244.60000000000002" x2="377.0" y2="244.60000000000002" stroke="#000" stroke-opacity="0.35" stroke-width="0.6"/><line x1="389.55" y1="261.1" x2="389.55" y2="258.5" stroke="#151515" stroke-width="1.3"/><line x1="386.05" y1="258.5" x2="393.05" y2="258.5" stroke="#151515" stroke-width="1.5"/><rect x="382.1" y="261.1" width="14.90" height="3.40" fill="#2e4c86"/><line x1="382.1" y1="261.40000000000003" x2="397.0" y2="261.40000000000003" stroke="#000" stroke-opacity="0.35" stroke-width="0.6"/><line x1="422.45" y1="209.4" x2="422.45" y2="194.9" stroke="#151515" stroke-width="1.3"/><line x1="418.95" y1="194.9" x2="425.95" y2="194.9" stroke="#151515" stroke-width="1.5"/><rect x="415.0" y="209.4" width="14.90" height="55.10" fill="#b5002e"/><line x1="415.0" y1="209.70000000000002" x2="429.9" y2="209.70000000000002" stroke="#000" stroke-opacity="0.35" stroke-width="0.6"/><line x1="442.15" y1="240.8" x2="442.15" y2="229.4" stroke="#151515" stroke-width="1.3"/><line x1="438.65" y1="229.4" x2="445.65" y2="229.4" stroke="#151515" stroke-width="1.5"/><rect x="434.8" y="240.8" width="14.70" height="23.70" fill="#2e4c86"/><line x1="434.8" y1="241.10000000000002" x2="449.5" y2="241.10000000000002" stroke="#000" stroke-opacity="0.35" stroke-width="0.6"/><line x1="474.80" y1="197.4" x2="474.80" y2="188.5" stroke="#151515" stroke-width="1.3"/><line x1="471.30" y1="188.5" x2="478.30" y2="188.5" stroke="#151515" stroke-width="1.5"/><rect x="467.4" y="197.4" width="14.80" height="67.10" fill="#b5002e"/><line x1="467.4" y1="197.70000000000002" x2="482.2" y2="197.70000000000002" stroke="#000" stroke-opacity="0.35" stroke-width="0.6"/><line x1="494.60" y1="210.0" x2="494.60" y2="200.5" stroke="#151515" stroke-width="1.3"/><line x1="491.10" y1="200.5" x2="498.10" y2="200.5" stroke="#151515" stroke-width="1.5"/><rect x="487.2" y="210.0" width="14.80" height="54.50" fill="#2e4c86"/><line x1="487.2" y1="210.3" x2="502.0" y2="210.3" stroke="#000" stroke-opacity="0.35" stroke-width="0.6"/><path d="M353.1,161 L353.1,264.5 L512,264.5" fill="none" stroke="#111" stroke-width="1.4"/><line x1="349.70000000000005" y1="264.50" x2="353.1" y2="264.50" stroke="#111" stroke-width="1.2"/><text x="345.70000000000005" y="267.50" font-size="9.4" text-anchor="end" font-weight="normal" >0.0</text><line x1="349.70000000000005" y1="239.32" x2="353.1" y2="239.32" stroke="#111" stroke-width="1.2"/><text x="345.70000000000005" y="242.32" font-size="9.4" text-anchor="end" font-weight="normal" >0.5</text><line x1="349.70000000000005" y1="214.15" x2="353.1" y2="214.15" stroke="#111" stroke-width="1.2"/><text x="345.70000000000005" y="217.15" font-size="9.4" text-anchor="end" font-weight="normal" >1.0</text><line x1="349.70000000000005" y1="188.97" x2="353.1" y2="188.97" stroke="#111" stroke-width="1.2"/><text x="345.70000000000005" y="191.97" font-size="9.4" text-anchor="end" font-weight="normal" >1.5</text><line x1="349.70000000000005" y1="163.80" x2="353.1" y2="163.80" stroke="#111" stroke-width="1.2"/><text x="345.70000000000005" y="166.80" font-size="9.4" text-anchor="end" font-weight="normal" >2.0</text><line x1="379.4" y1="264.5" x2="379.4" y2="268.1" stroke="#111" stroke-width="1.2"/><text transform="translate(379.4,279.40) scale(1,1.1)" font-size="9" text-anchor="middle" font-weight="normal" >0.1</text><line x1="432.2" y1="264.5" x2="432.2" y2="268.1" stroke="#111" stroke-width="1.2"/><text transform="translate(432.2,279.40) scale(1,1.1)" font-size="9" text-anchor="middle" font-weight="normal" >0.3</text><line x1="484.6" y1="264.5" x2="484.6" y2="268.1" stroke="#111" stroke-width="1.2"/><text transform="translate(484.6,279.40) scale(1,1.1)" font-size="9" text-anchor="middle" font-weight="normal" >1</text><text x="0" y="0" font-size="10" font-weight="bold" text-anchor="middle" textLength="61.5" lengthAdjust="spacingAndGlyphs" transform="translate(327.3,211.5) rotate(-90)">ATP secretion (nM)</text><text x="432.3" y="294.5" font-size="10" font-weight="bold" text-anchor="middle" textLength="58.8" lengthAdjust="spacingAndGlyphs">Collagen (µg/ml)</text><text x="389.5" y="253.9" font-size="10" text-anchor="middle" font-weight="bold" fill="#1a1a1a">*</text><text x="442.3" y="223" font-size="10" text-anchor="middle" font-weight="bold" fill="#1a1a1a">***</text>
<line x1="366.95" y1="400.7" x2="366.95" y2="394.0" stroke="#151515" stroke-width="1.3"/><line x1="363.45" y1="394.0" x2="370.45" y2="394.0" stroke="#151515" stroke-width="1.5"/><rect x="359.4" y="400.7" width="15.10" height="30.50" fill="#b5002e"/><line x1="359.4" y1="401.0" x2="374.5" y2="401.0" stroke="#000" stroke-opacity="0.35" stroke-width="0.6"/><line x1="387.55" y1="426.9" x2="387.55" y2="425.4" stroke="#151515" stroke-width="1.3"/><line x1="384.05" y1="425.4" x2="391.05" y2="425.4" stroke="#151515" stroke-width="1.5"/><rect x="379.9" y="426.9" width="15.30" height="4.30" fill="#2e4c86"/><line x1="379.9" y1="427.2" x2="395.2" y2="427.2" stroke="#000" stroke-opacity="0.35" stroke-width="0.6"/><line x1="421.40" y1="346.9" x2="421.40" y2="344.9" stroke="#151515" stroke-width="1.3"/><line x1="417.90" y1="344.9" x2="424.90" y2="344.9" stroke="#151515" stroke-width="1.5"/><rect x="413.7" y="346.9" width="15.40" height="84.30" fill="#b5002e"/><line x1="413.7" y1="347.2" x2="429.1" y2="347.2" stroke="#000" stroke-opacity="0.35" stroke-width="0.6"/><line x1="442.55" y1="348.8" x2="442.55" y2="342.3" stroke="#151515" stroke-width="1.3"/><line x1="439.05" y1="342.3" x2="446.05" y2="342.3" stroke="#151515" stroke-width="1.5"/><rect x="434.9" y="348.8" width="15.30" height="82.40" fill="#2e4c86"/><line x1="434.9" y1="349.1" x2="450.2" y2="349.1" stroke="#000" stroke-opacity="0.35" stroke-width="0.6"/><line x1="476.40" y1="352.9" x2="476.40" y2="337.3" stroke="#151515" stroke-width="1.3"/><line x1="472.90" y1="337.3" x2="479.90" y2="337.3" stroke="#151515" stroke-width="1.5"/><rect x="468.6" y="352.9" width="15.60" height="78.30" fill="#b5002e"/><line x1="468.6" y1="353.2" x2="484.2" y2="353.2" stroke="#000" stroke-opacity="0.35" stroke-width="0.6"/><line x1="496.70" y1="354.1" x2="496.70" y2="341.2" stroke="#151515" stroke-width="1.3"/><line x1="493.20" y1="341.2" x2="500.20" y2="341.2" stroke="#151515" stroke-width="1.5"/><rect x="488.8" y="354.1" width="15.80" height="77.10" fill="#2e4c86"/><line x1="488.8" y1="354.40000000000003" x2="504.6" y2="354.40000000000003" stroke="#000" stroke-opacity="0.35" stroke-width="0.6"/><path d="M353.4,328.9 L353.4,431.2 L511.2,431.2" fill="none" stroke="#111" stroke-width="1.4"/><line x1="350.0" y1="431.20" x2="353.4" y2="431.20" stroke="#111" stroke-width="1.2"/><text x="346.0" y="434.20" font-size="9.4" text-anchor="end" font-weight="normal" >0</text><line x1="350.0" y1="406.40" x2="353.4" y2="406.40" stroke="#111" stroke-width="1.2"/><text x="346.0" y="409.40" font-size="9.4" text-anchor="end" font-weight="normal" >20</text><line x1="350.0" y1="381.60" x2="353.4" y2="381.60" stroke="#111" stroke-width="1.2"/><text x="346.0" y="384.60" font-size="9.4" text-anchor="end" font-weight="normal" >40</text><line x1="350.0" y1="356.80" x2="353.4" y2="356.80" stroke="#111" stroke-width="1.2"/><text x="346.0" y="359.80" font-size="9.4" text-anchor="end" font-weight="normal" >60</text><line x1="350.0" y1="332.00" x2="353.4" y2="332.00" stroke="#111" stroke-width="1.2"/><text x="346.0" y="335.00" font-size="9.4" text-anchor="end" font-weight="normal" >80</text><line x1="377.1" y1="431.2" x2="377.1" y2="434.8" stroke="#111" stroke-width="1.2"/><text transform="translate(377.1,446.10) scale(1,1.1)" font-size="9" text-anchor="middle" font-weight="normal" >Fibrin</text><line x1="432.1" y1="431.2" x2="432.1" y2="434.8" stroke="#111" stroke-width="1.2"/><text transform="translate(432.1,446.10) scale(1,1.1)" font-size="9" text-anchor="middle" font-weight="normal" >CRP</text><line x1="485.8" y1="431.2" x2="485.8" y2="434.8" stroke="#111" stroke-width="1.2"/><text transform="translate(485.8,446.10) scale(1,1.1)" font-size="9" text-anchor="middle" font-weight="normal" >PAR1</text><text x="0" y="0" font-size="10" font-weight="bold" text-anchor="middle" textLength="53.4" lengthAdjust="spacingAndGlyphs" transform="translate(328.2,380.1) rotate(-90)">Aggregation (%)</text><text x="387.8" y="420.8" font-size="10" text-anchor="middle" font-weight="bold" fill="#1a1a1a">**</text>
<text x="301.7" y="26.1" font-size="10.8" text-anchor="start" font-weight="bold" fill="#111" letter-spacing="0.3">(ii)</text>
<text x="301.6" y="321.0" font-size="10.8" text-anchor="start" font-weight="bold" fill="#111" letter-spacing="0.3">(ii)</text>
<rect x="441.3" y="9.3" width="15.2" height="9.6" fill="#b5002e" stroke="#3a0010" stroke-opacity="0.6" stroke-width="0.6"/>
<rect x="441.3" y="25.7" width="15.2" height="10" fill="#2e4c86" stroke="#101a30" stroke-opacity="0.6" stroke-width="0.6"/>
<text x="460.8" y="16.5" font-size="9" text-anchor="start" font-weight="normal" textLength="26.4" lengthAdjust="spacingAndGlyphs">Control</text>
<text x="460.3" y="33.4" font-size="9" text-anchor="start" font-weight="normal" textLength="37" lengthAdjust="spacingAndGlyphs">+ D-dimer</text>
<path d="M0,0.8 H520 M0.8,0 V457" fill="none" stroke="#000" stroke-width="1.6"/><path d="M519,0 V457 M0,456 H520" fill="none" stroke="#000" stroke-width="2"/>
</svg>
</body></html>
